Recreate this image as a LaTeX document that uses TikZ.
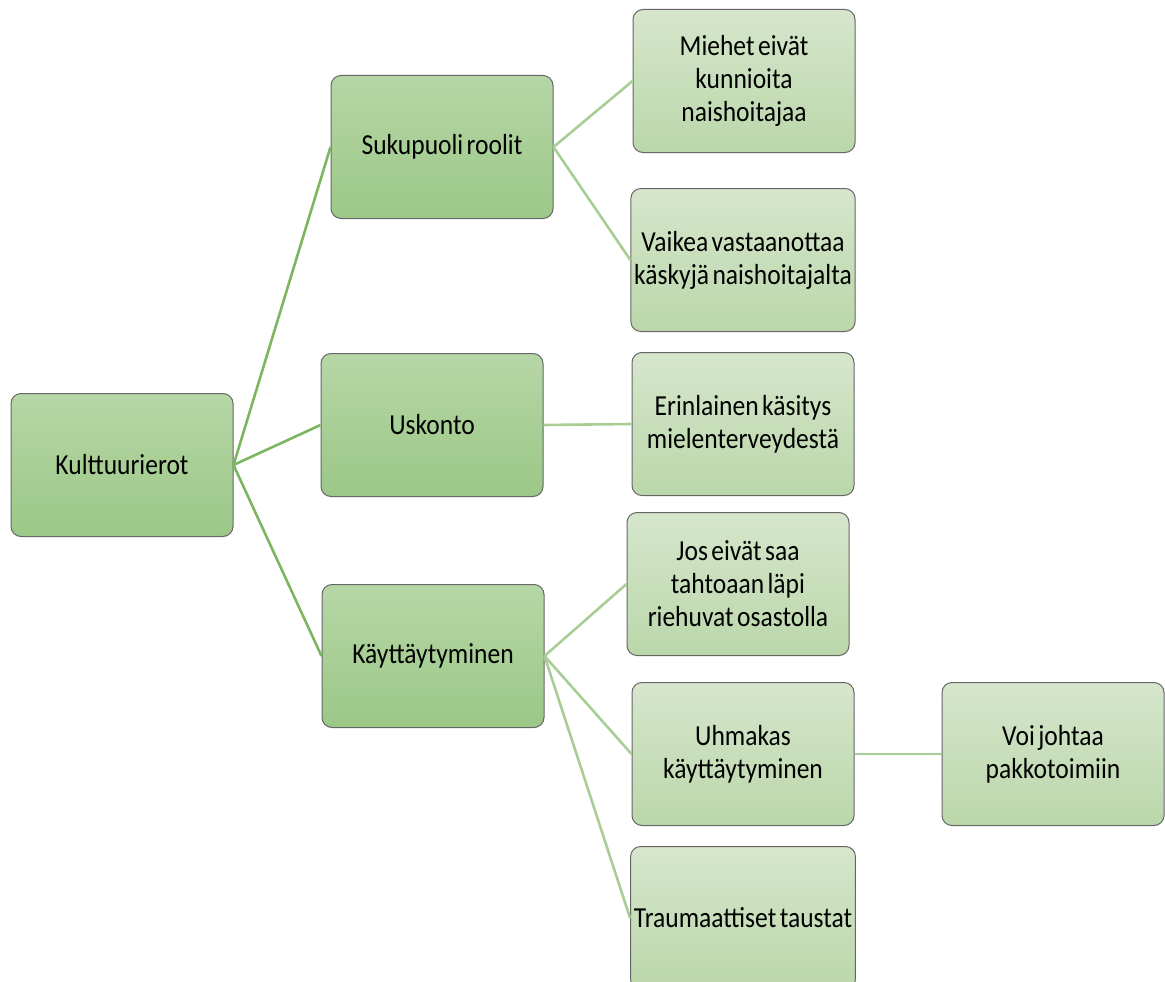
\documentclass[tikz,border=0pt]{standalone}
\usepackage{fontspec}
\setmainfont{Carlito}[FakeStretch=0.88, WordSpace=0.6]
\definecolor{darktop}{HTML}{B6D6A6}
\definecolor{darkbot}{HTML}{9BC887}
\definecolor{lighttop}{HTML}{D6E6CC}
\definecolor{lightbot}{HTML}{BAD7AA}
\definecolor{trunkgreen}{HTML}{7DB660}
\definecolor{twiggreen}{HTML}{A8CE95}
\begin{document}
\begin{tikzpicture}[x=1pt, y=-1pt,
        topic/.style={rectangle, draw=black!60, line width=1pt, rounded corners=10pt, top color=darktop, bottom color=darkbot, minimum width=222pt, minimum height=143pt, align=center, font=\fontsize{29}{33}\selectfont},
        detail/.style={topic, top color=lighttop, bottom color=lightbot},
        trunk/.style={draw=trunkgreen, line width=2.6pt},
        twig/.style={draw=twiggreen, line width=2.6pt}
    ]
        \useasboundingbox (0,0) rectangle (1165,982);
        \clip (0,0) rectangle (1165,982);

        % root and its three topics
        \node[topic] (root) at (122,465) {Kulttuurierot};
        \node[topic] (gender) at (442,147) {Sukupuoli roolit};
        \node[topic] (faith) at (432,425) {Uskonto};
        \node[topic] (behave) at (433,656) {Käyttäytyminen};

        % details
        \node[detail] (respect) at (744,81) {Miehet eivät\\kunnioita\\naishoitajaa};
        \node[detail] (orders) at (743,260) {Vaikea vastaanottaa\\käskyjä naishoitajalta};
        \node[detail] (mental) at (743,424) {Erinlainen käsitys\\mielenterveydestä};
        \node[detail] (riot) at (738,584) {Jos eivät saa\\tahtoaan läpi\\riehuvat osastolla};
        \node[detail] (defiant) at (743,754) {Uhmakas\\käyttäytyminen};
        \node[detail] (force) at (1053,754) {Voi johtaa\\pakkotoimiin};
        \node[detail] (trauma) at (743,918) {Traumaattiset taustat};

        % connectors
        \draw[trunk] (root.east) -- (gender.west);
        \draw[trunk] (root.east) -- (faith.west);
        \draw[trunk] (root.east) -- (behave.west);

        \draw[twig] (gender.east) -- (respect.west);
        \draw[twig] (gender.east) -- (orders.west);
        \draw[twig] (faith.east) -- (mental.west);
        \draw[twig] (behave.east) -- (riot.west);
        \draw[twig] (behave.east) -- (defiant.west);
        \draw[twig] (behave.east) -- (trauma.west);
        \draw[twig] (defiant.east) -- (force.west);

    \end{tikzpicture}
\end{document}
